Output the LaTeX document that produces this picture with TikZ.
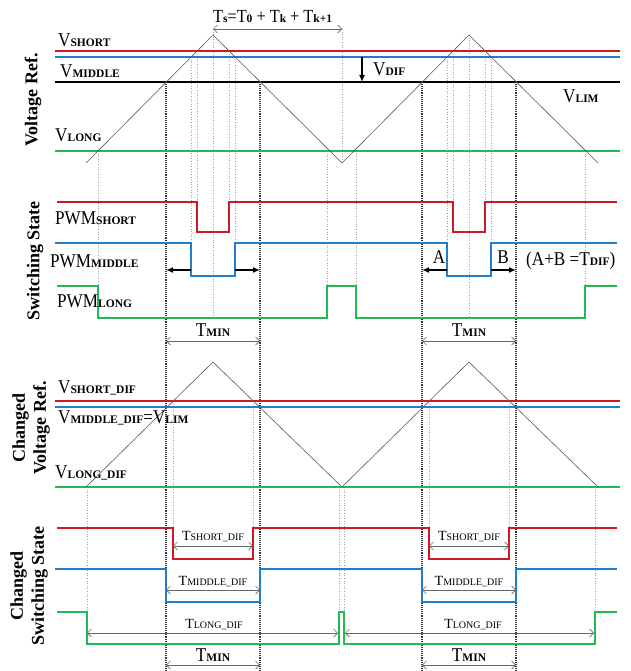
\documentclass[tikz,border=0pt]{standalone}
\usepackage{fontspec}
\setmainfont{Liberation Serif}
\newfontfamily\tallserif[FakeStretch=0.88]{Liberation Serif}
\usetikzlibrary{arrows.meta}

\definecolor{wred}{RGB}{205,25,35}
\definecolor{wblue}{RGB}{35,125,205}
\definecolor{wgreen}{RGB}{35,185,85}
\newcommand{\capsub}[1]{{\rmfamily\fontsize{11.5}{12}\selectfont\bfseries #1}}
\newcommand{\thinsub}[1]{{\rmfamily\fontsize{10}{11}\selectfont #1}}

\begin{document}
\begin{tikzpicture}[x=1pt, y=-1pt,
  level/.style={line width=1.7pt},
  wave/.style={draw=black!65, line width=0.6pt},
  guide/.style={draw=black!35, dotted, line width=0.6pt},
  bound/.style={draw=black!80, densely dotted, line width=1.1pt},
  pwm/.style={line width=1.7pt},
  dim/.style={draw=black!60, line width=0.6pt, {Straight Barb[length=4pt]}-{Straight Barb[length=4pt]}},
  push/.style={-{Latex[length=7pt,width=6pt]}, line width=1.4pt},
  lbl/.style={anchor=base west, inner sep=0pt, font=\tallserif\fontsize{19.5}{20}\selectfont},
  mid/.style={anchor=base, inner sep=0pt, font=\tallserif\fontsize{19.5}{20}\selectfont},
  small/.style={anchor=base, inner sep=0pt, font=\fontsize{14}{15}\selectfont},
  side/.style={rotate=90, align=center, inner sep=0pt, font=\fontsize{18}{21}\selectfont\bfseries}
]
  \useasboundingbox (0,0) rectangle (630,671);

  % guide lines
  \foreach \x/\ya/\yb in {98/151/286, 191/57/243, 197/51/202, 213/29/318, 229/51/202, 235/57/243,
      327/151/286, 342/29/163, 356/151/286, 447/57/243, 453/51/202, 469/35/318, 485/51/202,
      491/57/243, 585/151/286}
    \draw[guide] (\x,\ya) -- (\x,\yb);
  \foreach \x/\ya/\yb in {87/487/612, 173/401/528, 253/401/528, 339/487/612, 344/487/612,
      429/401/528, 509/401/528, 595/487/612}
    \draw[guide] (\x,\ya) -- (\x,\yb);
  \foreach \x in {166,260,422,516}
    \draw[bound] (\x,82) -- (\x,671);

  % voltage references
  \draw[level, wred] (55,51) -- (620,51);
  \draw[level, wblue] (55,57) -- (620,57);
  \draw[level, black] (55,82) -- (620,82);
  \draw[level, wgreen] (55,151) -- (620,151);
  \draw[wave] (86,163) -- (213,35) -- (342,163) -- (469,35) -- (598,163);

  \node[lbl] (vshort) at (58,47) {V\capsub{SHORT}};
  \node[lbl] (vmiddle) at (60,78) {V\capsub{MIDDLE}};
  \node[lbl] (vlong) at (55,142) {V\capsub{LONG}};
  \node[lbl] (vlim) at (563,103) {V\capsub{LIM}};
  \draw[push] (362,57) -- (362,82);
  \node[lbl] (vdif) at (373,76) {V\capsub{DIF}};
  \draw[dim] (213,29) -- (342,29);
  \node[lbl, font=\tallserif\fontsize{18.5}{19}\selectfont] (tsum) at (213,23)
    {T\capsub{s}=T\capsub{0} + T\capsub{k} + T\capsub{k+1}};

  % switching state
  \draw[pwm, wred] (57,202) -| (197,232) -| (229,202) -| (453,232) -| (485,202) -- (617,202);
  \draw[pwm, wblue] (55,243) -| (191,276) -| (235,243) -| (447,276) -| (491,243) -- (617,243);
  \draw[pwm, wgreen] (57,286) -| (98,318) -| (327,286) -| (356,318) -| (585,286) -- (617,286);

  \node[lbl] (pwmshort) at (55,224) {PWM\capsub{SHORT}};
  \node[lbl] (pwmmiddle) at (50,267) {PWM\capsub{MIDDLE}};
  \node[lbl] (pwmlong) at (57,307) {PWM\capsub{LONG}};

  \draw[push] (191,270) -- (166,270);
  \draw[push] (235,270) -- (260,270);
  \draw[push] (447,270) -- (422,270);
  \draw[push] (491,270) -- (516,270);
  \node[mid] (lblA) at (439,263) {A};
  \node[mid] (lblB) at (503,263) {B};
  \node[lbl] (tdif) at (526,265) {(A+B =T\capsub{DIF})};

  \draw[dim] (166,341) -- (260,341);
  \draw[dim] (422,341) -- (516,341);
  \node[mid] (tmin1) at (213,336) {T\capsub{MIN}};
  \node[mid] (tmin2) at (469,336) {T\capsub{MIN}};

  % changed voltage references
  \draw[level, wred] (55,401) -- (620,401);
  \draw[level, wblue] (55,407) -- (620,407);
  \draw[level, wgreen] (55,487) -- (620,487);
  \draw[wave] (86,487) -- (213,362) -- (342,487) -- (469,362) -- (598,487);

  \node[lbl] (vshortdif) at (58,393) {V\capsub{SHORT\_DIF}};
  \node[lbl] (vmiddledif) at (58,423) {V\capsub{MIDDLE\_DIF}=V\capsub{LIM}};
  \node[lbl] (vlongdif) at (55,478) {V\capsub{LONG\_DIF}};

  % changed switching state
  \draw[pwm, wred] (57,528) -| (173,559) -| (253,528) -| (429,559) -| (509,528) -- (617,528);
  \draw[pwm, wblue] (55,569) -| (166,602) -| (260,569) -| (422,602) -| (516,569) -- (617,569);
  \draw[pwm, wgreen] (57,612) -| (87,644) -| (339,612) -| (344,644) -| (595,612) -- (617,612);

  \draw[dim] (173,546) -- (253,546);
  \draw[dim] (429,546) -- (509,546);
  \node[small] (tshortdif1) at (213,540) {T\thinsub{SHORT\_DIF}};
  \node[small] (tshortdif2) at (469,540) {T\thinsub{SHORT\_DIF}};
  \draw[dim] (166,590) -- (260,590);
  \draw[dim] (422,590) -- (516,590);
  \node[small] (tmiddledif1) at (213,585) {T\thinsub{MIDDLE\_DIF}};
  \node[small] (tmiddledif2) at (469,585) {T\thinsub{MIDDLE\_DIF}};
  \draw[dim] (87,633) -- (338,633);
  \draw[dim] (345,633) -- (594,633);
  \node[small] (tlongdif1) at (214,628) {T\thinsub{LONG\_DIF}};
  \node[small] (tlongdif2) at (473,628) {T\thinsub{LONG\_DIF}};
  \draw[dim] (166,665) -- (260,665);
  \draw[dim] (422,665) -- (516,665);
  \node[mid] (tmin3) at (213,661) {T\capsub{MIN}};
  \node[mid] (tmin4) at (469,661) {T\capsub{MIN}};

  % side titles
  \node[side] (ttlvolt) at (33,100) {Voltage Ref.};
  \node[side] (ttlswitch) at (35,261) {Switching State};
  \node[side] (ttlcvolt) at (31,428) {Changed\\Voltage Ref.};
  \node[side] (ttlcswitch) at (29,586) {Changed\\Switching State};
\end{tikzpicture}
\end{document}
